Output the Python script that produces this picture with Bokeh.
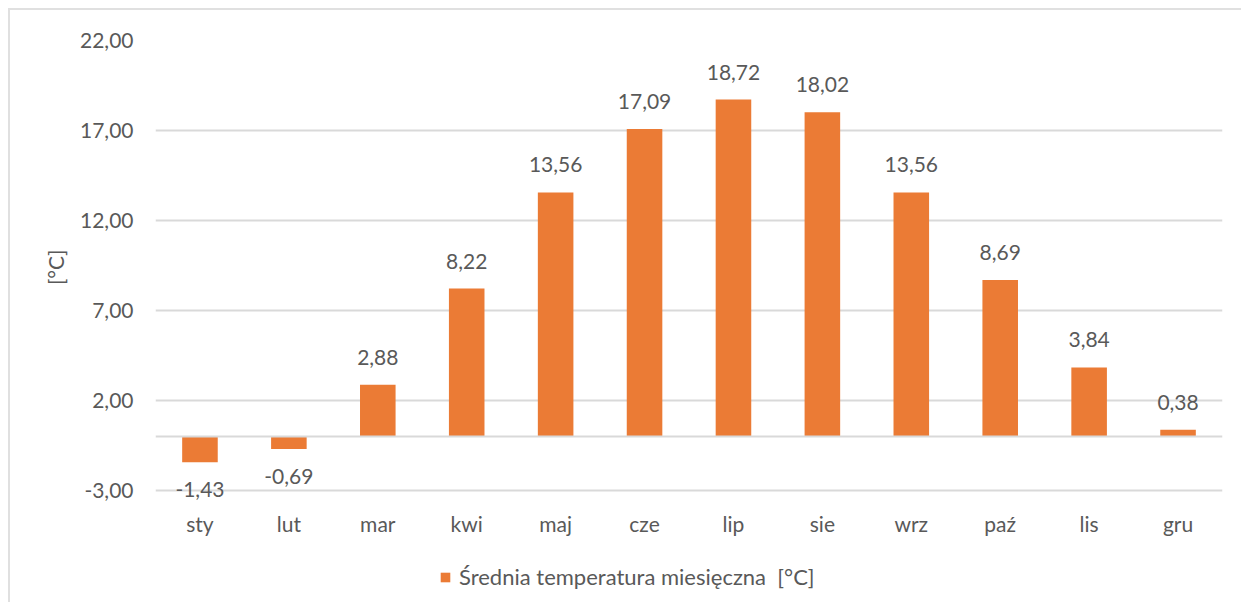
from bokeh.plotting import figure
from bokeh.models import (ColumnDataSource, FixedTicker, CustomJSTickFormatter, LabelSet,
                          Span, Legend, LegendItem, Title)
from bokeh.core.properties import value
from bokeh.embed import file_html
from bokeh.resources import INLINE

months = ["sty", "lut", "mar", "kwi", "maj", "cze", "lip", "sie", "wrz", "paź", "lis", "gru"]
temps = [-1.43, -0.69, 2.88, 8.22, 13.56, 17.09, 18.72, 18.02, 13.56, 8.69, 3.84, 0.38]
y_ticks = [-3, 2, 7, 12, 17, 22]
series_name = "Średnia temperatura miesięczna  [°C]"
axis_title = "[°C]"

FONT = "Lato"
FS = "21px"
TXT = "#595959"
GRID = "#d9d9d9"
BAR = "#EB7B35"

source = ColumnDataSource(dict(
    m=months,
    t=temps,
    lbl=[f"{v:.2f}".replace(".", ",") for v in temps],
    off=[20 if v >= 0 else -35 for v in temps],
))

p = figure(x_range=months, y_range=(22 - 564 / 18, 22), width=1233, height=594,
           output_backend="svg", toolbar_location=None,
           min_border_left=145, min_border_right=21, min_border_top=30, min_border_bottom=0)
p.styles = {"margin-left": "8px", "margin-top": "8px",
            "border-left": "2px solid #e0e0e0", "border-top": "2px solid #e0e0e0"}
p.outline_line_color = None
p.background_fill_color = "white"
p.border_fill_color = "white"

r = p.vbar(x="m", top="t", bottom=0, width=0.40, source=source,
           fill_color=BAR, line_color=None)

p.add_layout(Span(location=0, dimension="width", line_color=GRID, line_width=2))

p.xgrid.grid_line_color = None
p.ygrid.ticker = FixedTicker(ticks=y_ticks)
p.ygrid.grid_line_color = GRID
p.ygrid.grid_line_width = 2

p.yaxis.ticker = FixedTicker(ticks=y_ticks)
p.yaxis.formatter = CustomJSTickFormatter(code="return tick.toFixed(2).replace('.', ',');")
for ax in (p.xaxis[0], p.yaxis[0]):
    ax.axis_line_color = None
    ax.major_tick_line_color = None
    ax.minor_tick_line_color = None
    ax.major_tick_out = 0
    ax.major_tick_in = 0
    ax.minor_tick_out = 0
    ax.major_label_text_font = FONT
    ax.major_label_text_font_size = FS
    ax.major_label_text_color = TXT
p.yaxis.major_label_standoff = 22
p.xaxis.fixed_location = y_ticks[0]
p.xaxis.major_label_standoff = 20

p.add_layout(Title(text=axis_title, align="right", offset=209, standoff=20,
                   text_font=FONT, text_font_size=FS, text_font_style="normal",
                   text_color=TXT), "left")

labels = LabelSet(x="m", y="t", text="lbl", y_offset="off", source=source,
                  text_align="center", text_baseline="alphabetic",
                  text_font=value(FONT), text_font_size=value(FS), text_color=TXT)
p.add_layout(labels)

legend = Legend(items=[LegendItem(label=series_name, renderers=[r])],
                location=(284, 14), orientation="horizontal",
                glyph_width=12, glyph_height=12, label_standoff=8,
                padding=0, margin=0, spacing=0,
                border_line_alpha=0, background_fill_alpha=0,
                label_text_font=FONT, label_text_font_size="22px", label_text_color=TXT)
p.add_layout(legend)

open("out.html", "w").write(file_html(p, INLINE))
